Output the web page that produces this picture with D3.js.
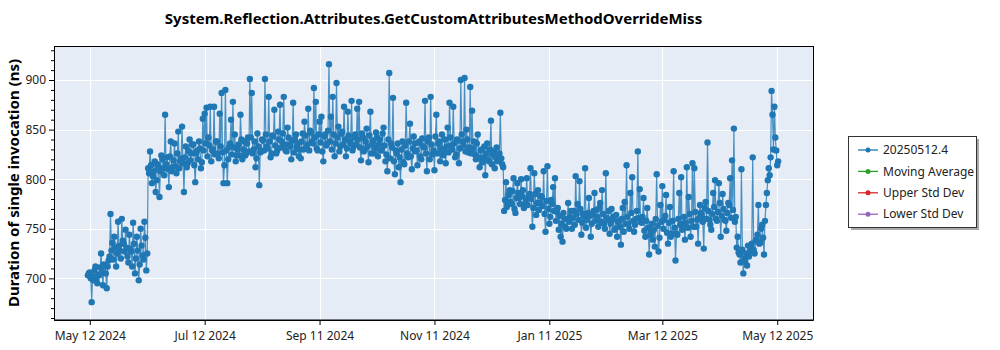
<!DOCTYPE html>
<html>
<head>
<meta charset="utf-8">
<script src="https://cdn.jsdelivr.net/npm/d3@7"></script>
<style>
    body { margin: 0; background: #fff; }
    svg { font-family: "Noto Sans", "Open Sans", sans-serif; }
</style>
</head>
<body>
<div id="wrapper"></div>
<script>
const chartTitle = "System.Reflection.Attributes.GetCustomAttributesMethodOverrideMiss";
const yLabel = "Duration of single invocation (ns)";
const legendNames = ["20250512.4", "Moving Average", "Upper Std Dev", "Lower Std Dev"];
const legendColors = ["#1f77b4", "#2ca02c", "#d62728", "#9467bd"];
const xTickDates = ["2024-05-12", "2024-07-12", "2024-09-11", "2024-11-11", "2025-01-11", "2025-03-12", "2025-05-12"];
const yTicks = [700, 750, 800, 850, 900];
const xDomain = ["2024-04-23", "2025-05-31"];
const yDomain = [658, 934.3];

// first run of each day (midnight), one value per day from the month start
const may2024 = [703, 706, 676, 698, 712, 695, 703, 725, 693, 712, 690, 718, 765, 736, 742, 712, 757, 728, 760, 735, 749];
const jun2024 = [722, 744, 727, 756, 705, 742, 698, 750, 723, 757, 708,
    811, 828, 796, 808, 787, 815, 782, 824, 811, 865, 822, 792, 838, 812, 836, 806, 848, 818, 853];
const jul2024 = [787, 833, 816, 840, 826, 835, 797, 829, 838, 811, 861, 866, 872, 842, 873, 829, 873, 838, 826, 866,
    887, 796, 890, 796, 832, 860, 878, 845, 824, 835, 865];
const aug2024 = [820, 838, 826, 842, 901, 887, 830, 812, 846, 794, 828, 839, 901, 833, 883, 822, 844, 870, 826, 848,
    875, 838, 883, 829, 852, 835, 820, 877, 840, 832, 823];
const sep2024 = [821, 846, 858, 832, 871, 849, 838, 892, 878, 829, 858, 863, 818, 845, 836, 916, 863, 883, 823, 897,
    853, 833, 848, 873, 823, 868, 838, 879, 833, 845];
const oct2024 = [871, 878, 819, 842, 830, 851, 817, 868, 835, 826, 847, 823, 840, 829, 852, 818, 808, 907, 836, 882,
    805, 826, 812, 797, 838, 815, 877, 822, 856, 810, 843];
const nov2024 = [828, 814, 838, 820, 833, 879, 808, 842, 883, 825, 809, 865, 836, 818, 845, 828, 816, 852, 877, 834,
    873, 822, 840, 816, 900, 838, 902, 850, 827, 893];
const dec2024 = [869, 838, 820, 845, 812, 830, 822, 804, 836, 818, 859, 825, 811, 832, 819, 867, 815,
    768, 797, 776, 789, 775, 801, 766, 796, 781, 800, 789, 774, 801, 782];
const jan2025 = [811, 752, 806, 764, 789, 776, 782, 808, 747, 813, 755, 779, 792, 801, 767, 749, 742, 737, 760, 750,
    776, 762, 750, 768, 803, 775, 798, 744, 765, 811, 759];
const feb2025 = [781, 742, 764, 786, 769, 752, 776, 789, 755, 806, 759, 745, 770, 762, 750, 742, 758, 734, 771, 777,
    814, 755, 786, 802, 747, 760, 828, 790];
const mar2025 = [756, 781, 742, 771, 724, 746, 739, 732, 805, 727, 774, 793, 759, 784, 735, 772, 745, 808, 718, 744,
    786, 802, 755, 739, 812, 782, 742, 816, 811, 752, 735];
const apr2025 = [774, 762, 730, 777, 837, 759, 749, 786, 799, 758, 796, 742, 785, 759, 748, 776, 801, 819, 851, 762,
    742, 724, 810, 705, 717, 713, 722, 732, 822, 725];
const may2025 = [739, 774, 736, 754, 724, 774, 799, 804, 889, 830, 842, 814];

// second run of each day (noon)
const may2024b = [705, 700, 702, 708, 699, 704, 711, 706, 714, 705, 712, 722, 728, 719, 731, 725, 733, 720, 738, 727, 731];
const jun2024b = [716, 730, 712, 735, 720, 728, 714, 733, 719, 741, 725,
    806, 814, 803, 818, 799, 812, 808, 820, 804, 815, 810, 823, 808, 819, 813, 826, 811, 821, 816];
const jul2024b = [822, 812, 828, 819, 835, 814, 826, 820, 831, 817, 829, 836, 823, 834, 818, 830, 825, 838, 821, 833,
    827, 814, 829, 820, 836, 825, 832, 818, 830, 824, 840];
const aug2024b = [830, 824, 836, 828, 842, 826, 838, 821, 833, 827, 840, 829, 845, 831, 838, 826, 843, 834, 829, 840,
    832, 846, 835, 828, 842, 833, 839, 827, 845, 836, 830];
const sep2024b = [838, 830, 844, 835, 829, 847, 836, 842, 831, 845, 837, 828, 843, 834, 849, 838, 830, 845, 836, 842,
    828, 846, 835, 840, 831, 844, 836, 829, 842, 835];
const oct2024b = [840, 832, 846, 828, 838, 833, 844, 826, 839, 831, 842, 835, 829, 846, 834, 825, 840, 821, 832, 818,
    829, 836, 822, 830, 817, 834, 826, 838, 823, 831, 836];
const nov2024b = [829, 837, 823, 841, 832, 826, 838, 820, 835, 829, 843, 826, 838, 831, 824, 840, 833, 827, 842, 830,
    836, 825, 839, 831, 845, 834, 828, 840, 832, 826];
const dec2024b = [831, 825, 836, 822, 829, 817, 833, 826, 820, 830, 815, 828, 822, 818, 826, 821, 812,
    779, 772, 784, 777, 788, 770, 781, 786, 775, 783, 771, 779, 774, 785];
const jan2025b = [780, 771, 785, 776, 769, 783, 773, 765, 778, 770, 762, 775, 768, 758, 771, 763, 755, 766, 752, 760,
    757, 768, 761, 754, 765, 759, 770, 756, 762, 751, 766];
const feb2025b = [763, 755, 768, 758, 762, 771, 757, 765, 750, 761, 768, 755, 759, 749, 764, 757, 752, 760, 747, 755,
    762, 750, 766, 758, 754, 768, 761, 757];
const mar2025b = [762, 748, 758, 751, 744, 755, 749, 760, 753, 741, 757, 750, 763, 746, 756, 742, 758, 751, 745, 760,
    754, 749, 762, 756, 751, 765, 758, 752, 767, 759, 761];
const apr2025b = [766, 757, 771, 760, 768, 754, 765, 772, 760, 767, 776, 763, 770, 758, 766, 774, 761, 769, 757, 731,
    726, 716, 729, 720, 725, 733, 727, 735, 729, 738];
const may2025b = [744, 735, 750, 741, 758, 786, 811, 822, 865, 873, 829, 818];

const monthStarts = ["2024-05-11", "2024-06-01", "2024-07-01", "2024-08-01", "2024-09-01", "2024-10-01", "2024-11-01",
    "2024-12-01", "2025-01-01", "2025-02-01", "2025-03-01", "2025-04-01", "2025-05-01"];
const monthValues = [may2024, jun2024, jul2024, aug2024, sep2024, oct2024, nov2024,
    dec2024, jan2025, feb2025, mar2025, apr2025, may2025];
const monthValuesNoon = [may2024b, jun2024b, jul2024b, aug2024b, sep2024b, oct2024b, nov2024b,
    dec2024b, jan2025b, feb2025b, mar2025b, apr2025b, may2025b];

function drawChart() {
    const dateParser = d3.timeParse("%Y-%m-%d");
    const dataset = [];
    monthStarts.forEach((s, m) => {
        const start = dateParser(s);
        monthValues[m].forEach((v, i) => {
            const day = d3.timeDay.offset(start, i);
            dataset.push({ date: day, value: v });
            dataset.push({ date: d3.timeHour.offset(day, 12), value: monthValuesNoon[m][i] });
        });
    });

    const xAccessor = d => d.date;
    const yAccessor = d => d.value;

    let dimensions = {
        width: 1000,
        height: 350,
        margins: { top: 46, right: 187, bottom: 30, left: 54 }
    };
    dimensions.boundedWidth = dimensions.width - dimensions.margins.left - dimensions.margins.right;
    dimensions.boundedHeight = dimensions.height - dimensions.margins.top - dimensions.margins.bottom;

    const wrapper = d3.select('#wrapper')
        .append('svg')
        .attr('width', dimensions.width)
        .attr('height', dimensions.height);

    const bounds = wrapper.append('g')
        .attr('transform', `translate(${dimensions.margins.left},${dimensions.margins.top})`);

    const xScale = d3.scaleTime()
        .domain(xDomain.map(dateParser))
        .range([0, dimensions.boundedWidth]);

    const yScale = d3.scaleLinear()
        .domain(yDomain)
        .range([dimensions.boundedHeight, 0]);

    // background + grid
    bounds.append('rect')
        .attr('width', dimensions.boundedWidth)
        .attr('height', dimensions.boundedHeight)
        .attr('fill', '#e5ecf6');

    const tickDates = xTickDates.map(dateParser);

    bounds.append('g')
        .selectAll('line')
        .data(tickDates)
        .join('line')
        .attr('x1', d => Math.round(xScale(d)) + 0.5)
        .attr('x2', d => Math.round(xScale(d)) + 0.5)
        .attr('y1', 0)
        .attr('y2', dimensions.boundedHeight)
        .attr('stroke', '#fff')
        .attr('stroke-width', 1.2);

    bounds.append('g')
        .selectAll('line')
        .data(yTicks)
        .join('line')
        .attr('x1', 0)
        .attr('x2', dimensions.boundedWidth)
        .attr('y1', d => Math.round(yScale(d)) + 0.5)
        .attr('y2', d => Math.round(yScale(d)) + 0.5)
        .attr('stroke', '#fff')
        .attr('stroke-width', 1.2);

    // series
    const lineGenerator = d3.line()
        .x(d => xScale(xAccessor(d)))
        .y(d => yScale(yAccessor(d)));

    bounds.append('path')
        .attr('d', lineGenerator(dataset))
        .attr('fill', 'none')
        .attr('stroke', '#1f77b4')
        .attr('stroke-opacity', 0.8)
        .attr('stroke-width', 1.2);

    bounds.append('g')
        .selectAll('circle')
        .data(dataset)
        .join('circle')
        .attr('cx', d => xScale(xAccessor(d)))
        .attr('cy', d => yScale(yAccessor(d)))
        .attr('r', 3.2)
        .attr('fill', '#1f77b4');

    // axes
    const xAxisGenerator = d3.axisBottom(xScale)
        .tickValues(tickDates)
        .tickFormat(d3.timeFormat("%b %d %Y"))
        .tickSize(5)
        .tickSizeOuter(0);

    const xAxis = bounds.append('g')
        .attr('transform', `translate(0,${dimensions.boundedHeight})`)
        .call(xAxisGenerator);

    const yAxisGenerator = d3.axisLeft(yScale)
        .tickValues(yTicks)
        .tickSize(5)
        .tickSizeOuter(0);

    const yAxis = bounds.append('g')
        .call(yAxisGenerator);

    const yMinor = bounds.append('g')
        .call(d3.axisLeft(yScale)
            .tickValues(d3.range(660, 931, 10).filter(v => v % 50 !== 0))
            .tickSize(3)
            .tickSizeOuter(0)
            .tickFormat(''));
    yMinor.select('.domain').remove();

    [xAxis, yAxis].forEach(ax => {
        ax.selectAll('text')
            .attr('fill', '#222')
            .style('font-size', '12px')
            .style('font-family', '"Noto Sans", sans-serif');
        ax.select('.domain').attr('stroke', '#000');
    });
    xAxis.selectAll('text').attr('dy', '1.0em');

    // frame
    bounds.append('rect')
        .attr('x', 0.5)
        .attr('y', 0.5)
        .attr('width', dimensions.boundedWidth)
        .attr('height', dimensions.boundedHeight - 0.5)
        .attr('fill', 'none')
        .attr('stroke', '#000')
        .attr('stroke-width', 1);

    // title
    wrapper.append('text')
        .attr('x', dimensions.margins.left + dimensions.boundedWidth / 2)
        .attr('y', 24)
        .attr('text-anchor', 'middle')
        .style('font-size', '15px')
        .style('font-weight', 'bold')
        .attr('fill', '#000')
        .text(chartTitle);

    wrapper.append('text')
        .attr('transform', `translate(19,${dimensions.margins.top + dimensions.boundedHeight / 2}) rotate(-90)`)
        .attr('text-anchor', 'middle')
        .style('font-size', '15px')
        .style('font-weight', 'bold')
        .attr('fill', '#000')
        .text(yLabel);

    // legend
    const legend = wrapper.append('g')
        .attr('transform', 'translate(848,136)');

    legend.append('rect')
        .attr('x', 3).attr('y', 3)
        .attr('width', 128).attr('height', 91)
        .attr('fill', '#a8a8a8');

    legend.append('rect')
        .attr('x', 0.5).attr('y', 0.5)
        .attr('width', 128).attr('height', 91)
        .attr('fill', '#fff')
        .attr('stroke', '#333');

    const items = legend.selectAll('.item')
        .data(legendNames)
        .join('g')
        .attr('class', 'item')
        .attr('transform', (d, i) => `translate(0,${14 + i * 21.4})`);

    items.append('line')
        .attr('x1', 10).attr('x2', 30)
        .attr('stroke', (d, i) => legendColors[i])
        .attr('stroke-width', 1.3);

    items.append('circle')
        .attr('cx', 20)
        .attr('r', 2.5)
        .attr('fill', (d, i) => legendColors[i]);

    items.append('text')
        .attr('x', 35)
        .attr('dy', '0.35em')
        .style('font-size', '12px')
        .attr('fill', '#222')
        .text(d => d);
}

drawChart();
</script>
</body>
</html>
